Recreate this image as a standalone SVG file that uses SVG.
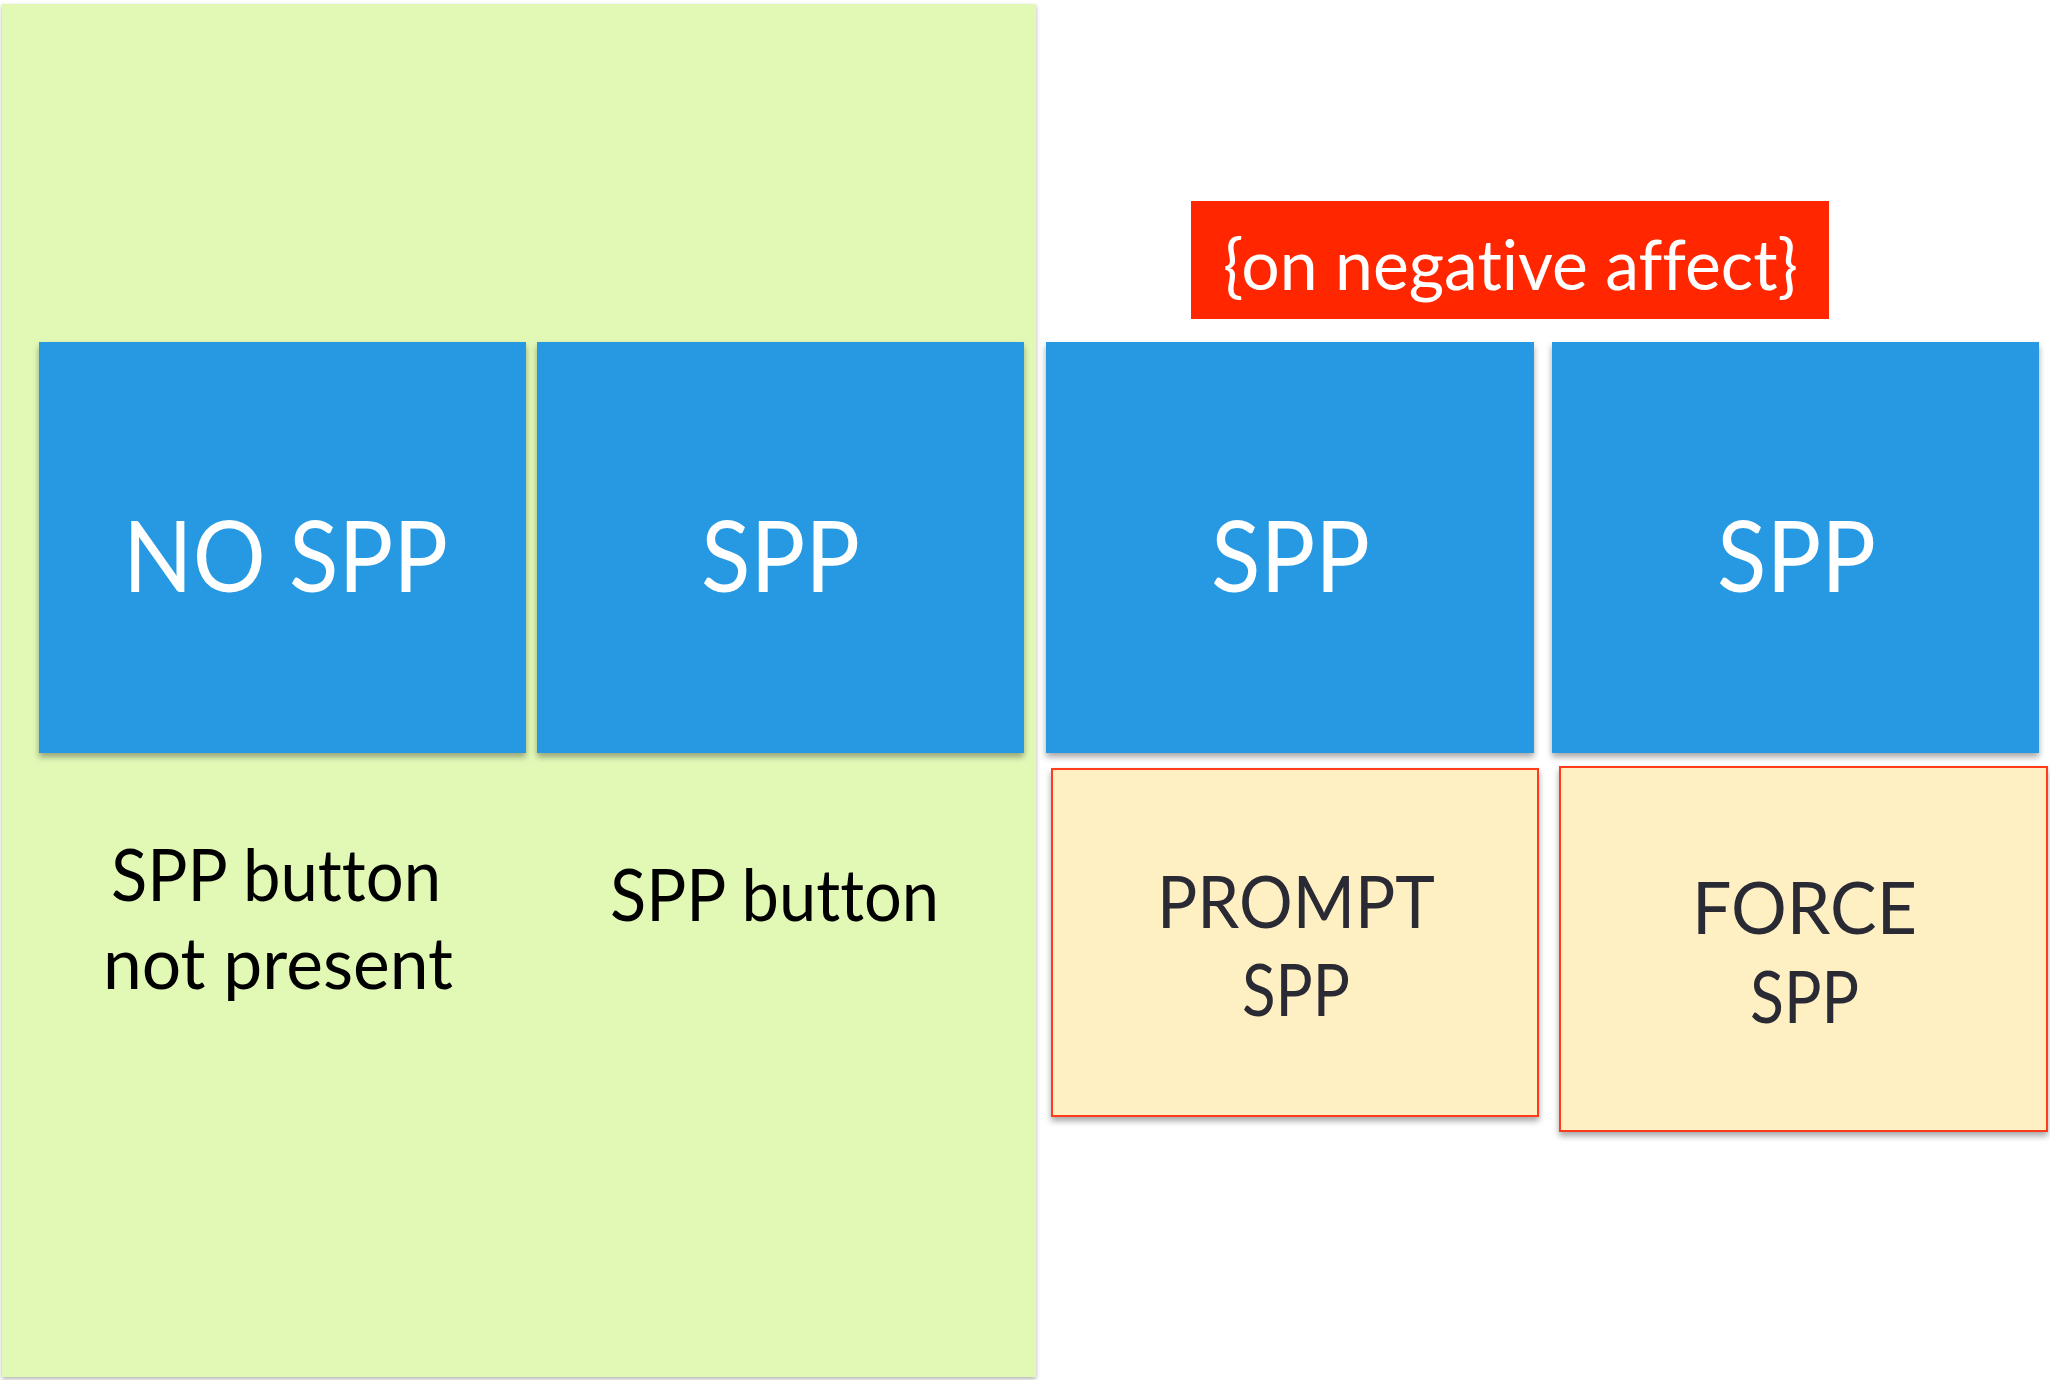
<svg xmlns="http://www.w3.org/2000/svg" width="2050" height="1380" viewBox="0 0 2050 1380">
  <defs>
    <filter id="shadow" x="-5%" y="-5%" width="110%" height="112%">
      <feDropShadow dx="0" dy="4" stdDeviation="3" flood-color="#000" flood-opacity="0.35"/>
    </filter>
    <filter id="panelShadow" x="-2%" y="-2%" width="104%" height="104%">
      <feDropShadow dx="0" dy="2" stdDeviation="2" flood-color="#000" flood-opacity="0.3"/>
    </filter>
    <style>
      text { font-variant-ligatures: none; }
      .blue { fill: #2899e2; filter: url(#shadow); }
      .note { fill: #fff0c3; stroke: #ff3a1c; stroke-width: 2; filter: url(#shadow); }
      .big { font-family: Lato, "Open Sans", "Liberation Sans", sans-serif; font-size: 98px; fill: #ffffff; }
      .mid { font-family: Lato, "Open Sans", "Liberation Sans", sans-serif; font-size: 71px; }
      .dark { fill: #2a2a35; }
      .black { fill: #000000; }
      .tag { font-family: Lato, "Open Sans", "Liberation Sans", sans-serif; font-size: 70px; fill: #ffffff; }
    </style>
  </defs>

  <rect width="2050" height="1380" fill="#ffffff"/>

  <!-- green area holding the first two variants -->
  <g id="panel-green">
    <rect x="2" y="4" width="1034" height="1373" fill="#e2f9b6" filter="url(#panelShadow)"/>
  </g>

  <!-- heading above the conditional variants -->
  <g id="label-negative-affect">
    <rect x="1191" y="201" width="638" height="118" fill="#ff2600"/>
    <text class="tag" x="1223" y="290" textLength="575" lengthAdjust="spacingAndGlyphs">{on negative affect}</text>
  </g>

  <!-- blue variant tiles -->
  <g id="node-no-spp">
    <rect class="blue" x="39" y="342" width="487" height="411"/>
    <text class="big" x="123" y="592" textLength="325" lengthAdjust="spacingAndGlyphs">NO SPP</text>
  </g>
  <g id="node-spp-1">
    <rect class="blue" x="537" y="342" width="487" height="411"/>
    <text class="big" x="701" y="592" textLength="159" lengthAdjust="spacingAndGlyphs">SPP</text>
  </g>
  <g id="node-spp-2">
    <rect class="blue" x="1046" y="342" width="488" height="411"/>
    <text class="big" x="1211" y="592" textLength="159" lengthAdjust="spacingAndGlyphs">SPP</text>
  </g>
  <g id="node-spp-3">
    <rect class="blue" x="1552" y="342" width="487" height="411"/>
    <text class="big" x="1717" y="592" textLength="159" lengthAdjust="spacingAndGlyphs">SPP</text>
  </g>

  <!-- captions under the green-area tiles -->
  <g id="caption-no-button">
    <text class="mid black" x="111" y="901" textLength="330" lengthAdjust="spacingAndGlyphs">SPP button</text>
    <text class="mid black" x="103" y="989" textLength="350" lengthAdjust="spacingAndGlyphs">not present</text>
  </g>
  <g id="caption-button">
    <text class="mid black" x="610" y="921" textLength="329" lengthAdjust="spacingAndGlyphs">SPP button</text>
  </g>

  <!-- yellow behaviour notes -->
  <g id="node-prompt">
    <rect class="note" x="1052" y="769" width="486" height="347"/>
    <text class="mid dark" x="1157" y="928" textLength="278" lengthAdjust="spacingAndGlyphs">PROMPT</text>
    <text class="mid dark" x="1242" y="1016" textLength="108" lengthAdjust="spacingAndGlyphs">SPP</text>
  </g>
  <g id="node-force">
    <rect class="note" x="1560" y="767" width="487" height="364"/>
    <text class="mid dark" x="1692" y="934" textLength="225" lengthAdjust="spacingAndGlyphs">FORCE</text>
    <text class="mid dark" x="1750" y="1023" textLength="109" lengthAdjust="spacingAndGlyphs">SPP</text>
  </g>

  <g id="connectors"/>
</svg>
